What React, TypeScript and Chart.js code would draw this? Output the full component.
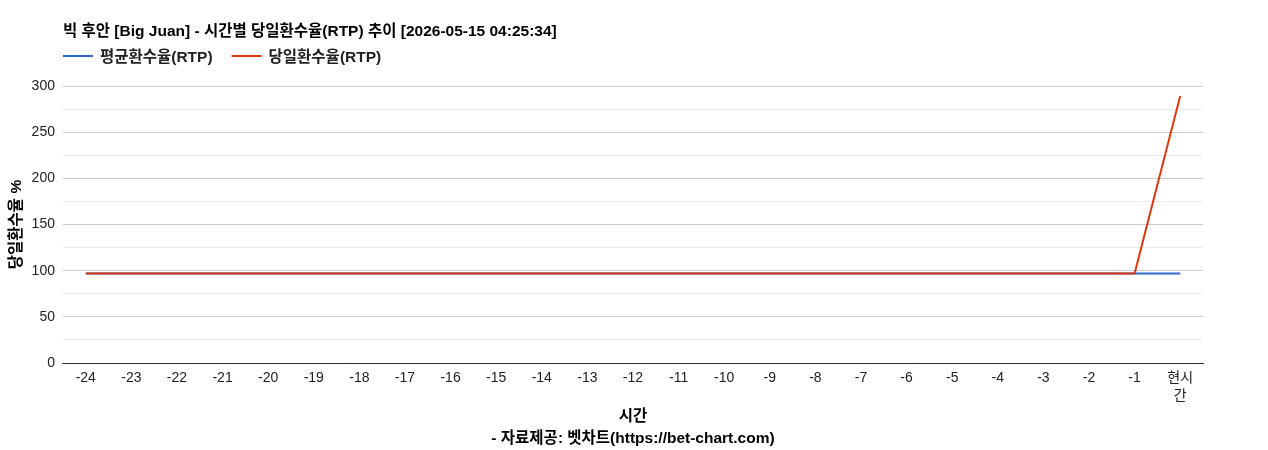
import { useEffect, useRef } from 'react'
import { Chart, registerables, ChartConfiguration, Plugin } from 'chart.js'

Chart.register(...registerables)

const FONT = '"Liberation Sans", Arial, "Noto Sans CJK KR", sans-serif'
const BOLD_SIZE = 15.5

const chartTitle = '빅 후안 [Big Juan] - 시간별 당일환수율(RTP) 추이 [2026-05-15 04:25:34]'
const hourLabels: (string | string[])[] = [
  '-24', '-23', '-22', '-21', '-20', '-19', '-18', '-17', '-16', '-15', '-14', '-13',
  '-12', '-11', '-10', '-9', '-8', '-7', '-6', '-5', '-4', '-3', '-2', '-1', ['현시', '간'],
]
const avgRtp = [
  96.9, 96.9, 96.9, 96.9, 96.9, 96.9, 96.9, 96.9, 96.9, 96.9, 96.9, 96.9,
  96.9, 96.9, 96.9, 96.9, 96.9, 96.9, 96.9, 96.9, 96.9, 96.9, 96.9, 96.9, 96.9,
]
const dailyRtp = [
  96.9, 96.9, 96.9, 96.9, 96.9, 96.9, 96.9, 96.9, 96.9, 96.9, 96.9, 96.9,
  96.9, 96.9, 96.9, 96.9, 96.9, 96.9, 96.9, 96.9, 96.9, 96.9, 96.9, 96.9, 289.2,
]
const xTitle = ['시간', '- 자료제공: 벳차트(https://bet-chart.com)']
const yTitle = '당일환수율 %'

// google-charts style legend: line sample + bold label, left aligned with plot
const lineLegend: Plugin<'line'> = {
  id: 'lineLegend',
  afterDraw(chart) {
    const { ctx, chartArea } = chart
    let x = chartArea.left
    const y = 56
    ctx.save()
    ctx.font = `bold ${BOLD_SIZE}px ${FONT}`
    ctx.textBaseline = 'middle'
    ctx.textAlign = 'left'
    chart.data.datasets.forEach((ds) => {
      ctx.strokeStyle = ds.borderColor as string
      ctx.lineWidth = 2
      ctx.beginPath()
      ctx.moveTo(x, y)
      ctx.lineTo(x + 30, y)
      ctx.stroke()
      ctx.fillStyle = '#222'
      const label = ds.label || ''
      ctx.fillText(label, x + 37, y + 1.5)
      x += 37 + ctx.measureText(label).width + 19
    })
    ctx.restore()
  },
}

export default function App() {
  const canvasRef = useRef<HTMLCanvasElement>(null)
  const chartRef = useRef<Chart | null>(null)

  useEffect(() => {
    if (!canvasRef.current) return
    if (chartRef.current) chartRef.current.destroy()

    const config: ChartConfiguration<'line'> = {
      type: 'line',
      data: {
        labels: hourLabels,
        datasets: [
          {
            label: '평균환수율(RTP)',
            data: avgRtp,
            borderColor: '#3366cc',
            backgroundColor: '#3366cc',
            borderWidth: 2,
            pointRadius: 0,
            tension: 0,
            order: 1,
          },
          {
            label: '당일환수율(RTP)',
            data: dailyRtp,
            borderColor: '#dc3912',
            backgroundColor: '#dc3912',
            borderWidth: 2,
            pointRadius: 0,
            tension: 0,
            order: 0,
          },
        ],
      },
      options: {
        animation: false,
        responsive: true,
        maintainAspectRatio: false,
        layout: { padding: { right: 65 } },
        plugins: {
          legend: { display: false },
          tooltip: { enabled: false },
          title: {
            display: true,
            text: chartTitle,
            align: 'start',
            fullSize: false,
            color: '#000',
            font: { family: FONT, size: BOLD_SIZE, weight: 'bold', lineHeight: 1.2 },
            padding: { top: 22.7, bottom: 44.7 },
          },
        },
        scales: {
          x: {
            offset: true,
            grid: { display: false, drawTicks: false },
            border: { display: true, color: '#333', width: 1 },
            ticks: {
              autoSkip: false,
              maxRotation: 0,
              padding: 6,
              color: '#222',
              font: { family: FONT, size: 14, lineHeight: 18 / 14 },
            },
            title: {
              display: true,
              text: xTitle,
              color: '#000',
              font: { family: FONT, size: BOLD_SIZE, weight: 'bold', lineHeight: 22 / BOLD_SIZE },
              padding: { top: -5, bottom: 0 },
            },
          },
          y: {
            min: 0,
            max: 300,
            border: { display: false },
            grid: {
              drawTicks: false,
              color: (c) => (c.tick.value === 0 ? '#333' : c.tick.value % 50 === 0 ? '#cccccc' : '#ebebeb'),
            },
            ticks: {
              stepSize: 25,
              padding: 8,
              color: '#222',
              font: { family: FONT, size: 14 },
              callback: (v) => (Number(v) % 50 === 0 ? String(v) : ''),
            },
            title: {
              display: true,
              text: yTitle,
              color: '#000',
              font: { family: FONT, size: BOLD_SIZE, weight: 'bold', lineHeight: 1.2 },
              padding: { top: 7.5, bottom: -2.5 },
            },
          },
        },
      },
      plugins: [lineLegend],
    }

    chartRef.current = new Chart(canvasRef.current, config)

    return () => {
      if (chartRef.current) {
        chartRef.current.destroy()
        chartRef.current = null
      }
    }
  }, [])

  return (
    <div style={{ position: 'absolute', left: 0, top: 0, width: 1268, height: 450, background: '#fff' }}>
      <canvas ref={canvasRef} />
    </div>
  )
}
